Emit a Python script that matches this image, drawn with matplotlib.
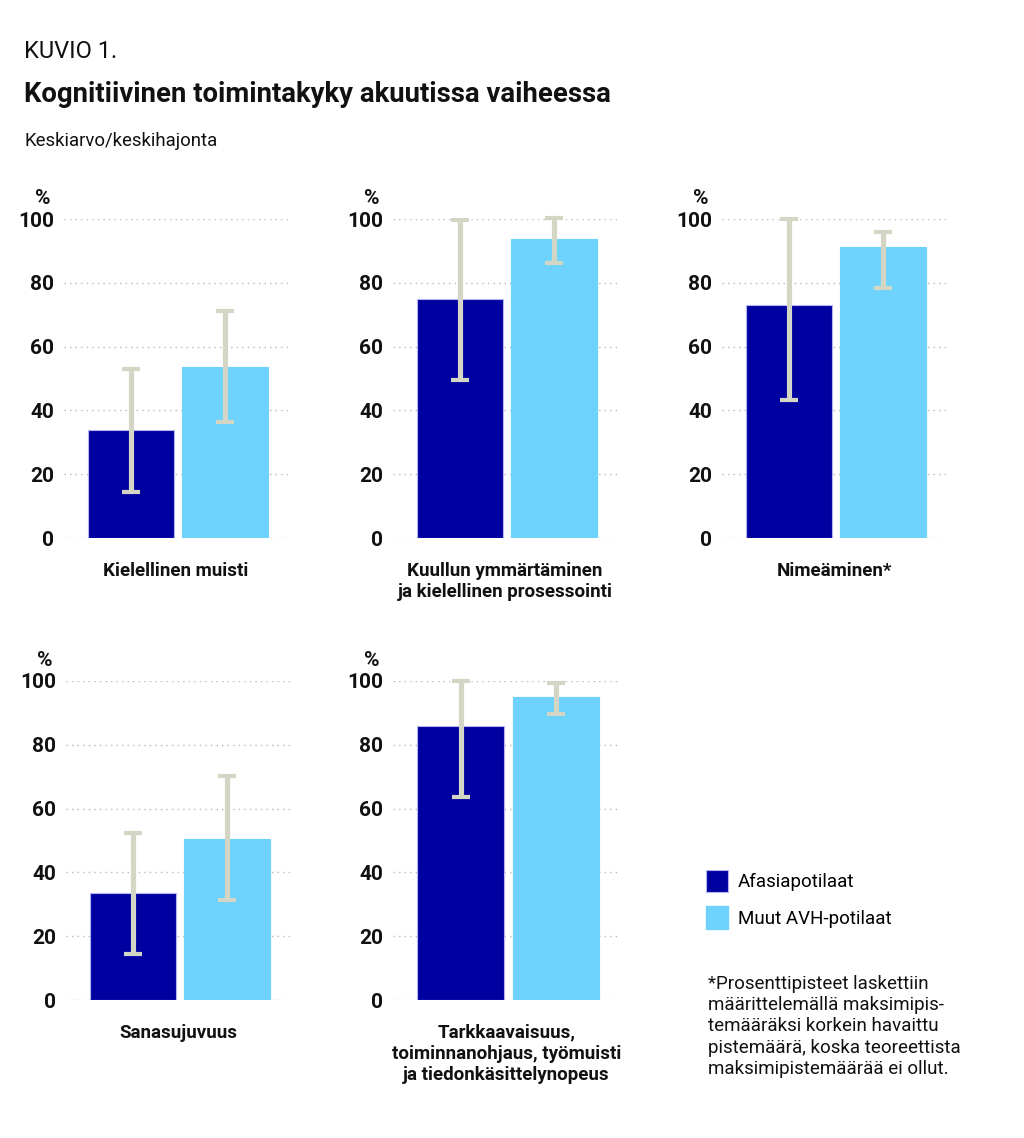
import matplotlib

matplotlib.use("Agg")
import matplotlib.pyplot as plt
from matplotlib.patches import Patch

# Colours
DARK = "#0000a0"
LIGHT = "#6dd3fd"
ERR = "#d3d6c5"
GRID = "#b9b9b9"
INK = "#111111"

NARROW = ["Roboto", "DejaVu Sans"]
TICKF = ["Roboto", "DejaVu Sans"]

plt.rcParams["font.family"] = NARROW

# ---------------------------------------------------------------- data
categories = [
    "Kielellinen muisti",
    "Kuullun ymmärtäminen\nja kielellinen prosessointi",
    "Nimeäminen*",
    "Sanasujuvuus",
    "Tarkkaavaisuus,\ntoiminnanohjaus, työmuisti\nja tiedonkäsittelynopeus",
]
series = ["Afasiapotilaat", "Muut AVH-potilaat"]

# mean values (%)
afasia_mean = [34.0, 75.0, 72.9, 33.4, 85.9]
muut_mean = [53.7, 93.6, 91.3, 50.6, 94.9]
# ends of the sd whiskers (%)
afasia_low = [14.4, 49.6, 43.4, 14.5, 63.6]
afasia_high = [53.0, 99.6, 100.0, 52.2, 100.0]
muut_low = [36.3, 86.2, 78.5, 31.3, 89.5]
muut_high = [71.3, 100.3, 95.8, 70.1, 99.4]

yticks = [0, 20, 40, 60, 80, 100]

# ---------------------------------------------------------------- figure
W, H = 1024, 1138
fig = plt.figure(figsize=(W / 100, H / 100), dpi=100)
fig.patch.set_facecolor("white")

# axes rectangles in pixels: (left, top_of_100, right, y_of_0)
rects = [
    (64, 219, 288, 538),
    (393, 219, 617, 538),
    (722, 219, 946, 538),
    (66, 681, 290, 1000),
    (393, 681, 620, 1000),
]

for i, (l, t, r, b) in enumerate(rects):
    ax = fig.add_axes([l / W, 1 - b / H, (r - l) / W, (b - t) / H])
    x = [0, 1]
    means = [afasia_mean[i], muut_mean[i]]
    lows = [afasia_low[i], muut_low[i]]
    highs = [afasia_high[i], muut_high[i]]
    ax.bar(x, means, width=0.91, color=[DARK, LIGHT],
           edgecolor=["#b4b4f0", LIGHT], linewidth=0.8, zorder=2)
    yerr = [[m - lo for m, lo in zip(means, lows)],
            [hi - m for m, hi in zip(means, highs)]]
    eb = ax.errorbar(x, means, yerr=yerr, fmt="none", ecolor=ERR,
                     elinewidth=3.7, capsize=6.2, capthick=3.0, zorder=3)
    for art in list(eb.lines[1]) + list(eb.lines[2]):
        art.set_clip_on(False)

    ax.set_xlim(-0.71, 1.67)
    ax.set_ylim(0, 100)
    ax.set_yticks(yticks)
    ax.set_yticklabels([str(v) for v in yticks], fontsize=15,
                       fontweight="bold", family=TICKF, color=INK)
    ax.tick_params(axis="y", length=0, pad=7)
    ax.set_xticks([])
    for s in ax.spines.values():
        s.set_visible(False)
    ax.grid(True, axis="y", color=GRID, linestyle=(0, (1, 3)), linewidth=1.0)
    ax.set_axisbelow(True)
    ax.text(-0.06, 1.035, "%", transform=ax.transAxes, ha="right",
            va="bottom", fontsize=15, fontweight="bold", family=TICKF,
            color=INK)
    ax.text(0.5, -0.075, categories[i], transform=ax.transAxes, ha="center",
            va="top", fontsize=13.5, fontweight="bold", color=INK,
            linespacing=1.2)

# titles
fig.text(24 / W, 1 - 52 / H, "KUVIO 1.", fontsize=17, va="center",
         ha="left", color=INK)
fig.text(24 / W, 1 - 94 / H, "Kognitiivinen toimintakyky akuutissa vaiheessa",
         fontsize=19.8, fontweight="bold", va="center", ha="left", color=INK)
fig.text(24 / W, 1 - 141 / H, "Keskiarvo/keskihajonta", fontsize=13.4,
         va="center", ha="left", color=INK)

# legend
handles = [Patch(facecolor=DARK, edgecolor="#b4b4f0", linewidth=0.8),
           Patch(facecolor=LIGHT, edgecolor=LIGHT)]
fig.legend(handles, series, loc="upper left",
           bbox_to_anchor=(698 / W, 1 - 862 / H), frameon=False,
           fontsize=13.5, handlelength=1.19, handleheight=1.5,
           handletextpad=0.55, labelspacing=0.72, borderaxespad=0)

fig.text(708 / W, 1 - 975 / H,
         "*Prosenttipisteet laskettiin\nmäärittelemällä maksimipis-\n"
         "temääräksi korkein havaittu\npistemäärä, koska teoreettista\n"
         "maksimipistemäärää ei ollut.",
         fontsize=13.5, va="top", ha="left", linespacing=1.23, color=INK)

fig.savefig("out.png", dpi=100)
